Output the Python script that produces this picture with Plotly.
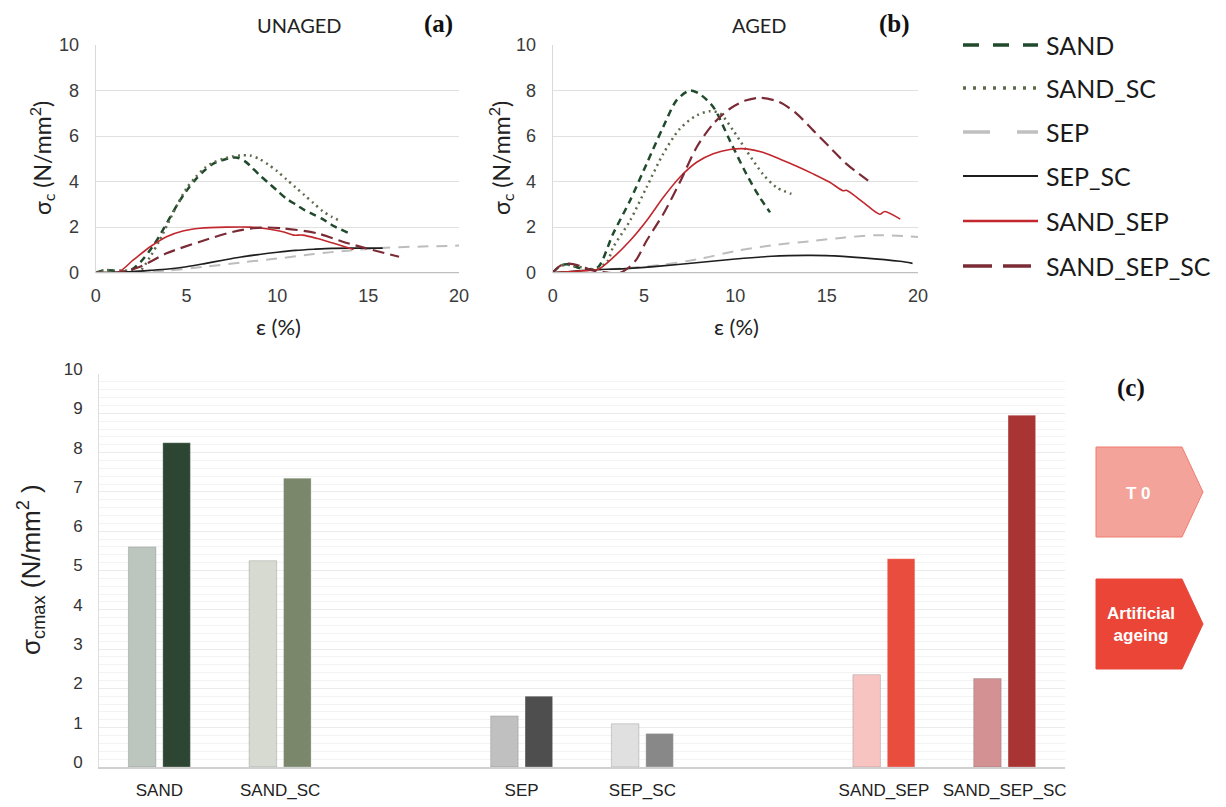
import plotly.graph_objects as go

W, H = 1226, 807
def fx(x): return x / W
def fy(y): return 1 - y / H

# ---------------- data: panel (a) UNAGED ----------------
a_sand_x = [0, 0.5, 1, 1.5, 2, 2.5, 3, 3.5, 4, 4.5, 5, 5.5, 6, 6.5, 7, 7.5, 7.8, 8.2, 8.5, 9, 9.5, 10, 10.5, 11, 11.5, 12, 12.5, 12.9, 13.1, 13.9]
a_sand_y = [0, 0.1, 0.1, 0.05, 0.15, 0.5, 1.0, 1.6, 2.3, 3.0, 3.6, 4.1, 4.5, 4.8, 4.95, 5.05, 5.05, 4.9, 4.7, 4.3, 3.95, 3.6, 3.25, 3.0, 2.75, 2.55, 2.35, 2.15, 2.05, 1.75]
a_sandsc_x = [0, 0.5, 1, 1.5, 2, 2.35, 3, 3.5, 4, 4.5, 5, 5.5, 6, 6.5, 7, 7.5, 8, 8.5, 9, 9.5, 10, 10.5, 11, 11.5, 12, 12.5, 13, 13.4]
a_sandsc_y = [0, 0.12, 0.08, 0.1, 0.05, 0.0, 0.7, 1.4, 2.2, 3.0, 3.7, 4.2, 4.6, 4.85, 5.0, 5.1, 5.15, 5.15, 5.0, 4.75, 4.45, 4.1, 3.75, 3.4, 3.05, 2.7, 2.45, 2.3]
a_sep_x = [0, 2, 4, 6, 8, 10, 12, 14, 16, 18, 20]
a_sep_y = [0, 0.02, 0.1, 0.26, 0.45, 0.62, 0.82, 0.98, 1.1, 1.15, 1.19]
a_sepsc_x = [0, 1, 2, 3, 4, 5, 6, 7, 8, 9, 10, 11, 12, 13, 14, 15, 15.8]
a_sepsc_y = [0, 0.02, 0.05, 0.1, 0.16, 0.26, 0.4, 0.55, 0.69, 0.8, 0.9, 0.98, 1.03, 1.07, 1.08, 1.08, 1.08]
a_sandsep_x = [0, 1.2, 2.07, 3.0, 3.9, 4.8, 5.74, 7.2, 8.5, 9.4, 10.3, 10.9, 11.4, 12.2, 13.1, 14.2]
a_sandsep_y = [0, 0, 0.56, 1.14, 1.58, 1.83, 1.95, 2.0, 2.0, 1.93, 1.8, 1.65, 1.65, 1.5, 1.29, 1.02]
a_sandsepsc_x = [0, 1.3, 2.44, 3.9, 5.74, 7.58, 9.05, 10.3, 12.2, 13.6, 14.9, 16.7]
a_sandsepsc_y = [0, 0, 0.26, 0.85, 1.36, 1.8, 1.98, 1.95, 1.73, 1.36, 1.07, 0.7]

# ---------------- data: panel (b) AGED ----------------
b_sand_x = [0, 0.4, 0.8, 1.5, 2, 2.5, 3.3, 4.23, 5.14, 6.05, 6.78, 7.5, 8.0, 8.79, 9.7, 10.6, 11.34, 11.9]
b_sand_y = [0, 0.3, 0.37, 0.2, 0.15, 0.25, 1.7, 3.16, 4.78, 6.4, 7.57, 8.0, 7.87, 7.28, 5.8, 4.34, 3.3, 2.65]
b_sandsc_x = [0, 0.4, 0.8, 1.5, 2, 2.5, 3.0, 3.3, 4.23, 5.14, 6.05, 6.96, 7.88, 8.6, 9.15, 9.88, 10.6, 11.5, 12.25, 13.07]
b_sandsc_y = [0, 0.28, 0.35, 0.25, 0.15, 0.2, 0.5, 1.1, 2.28, 3.75, 5.22, 6.32, 6.91, 7.09, 7.0, 6.25, 5.37, 4.34, 3.75, 3.46]
b_sep_x = [0, 2, 4, 6, 8, 10, 12, 14.3, 16, 17.9, 20]
b_sep_y = [0, 0.1, 0.2, 0.35, 0.6, 0.95, 1.2, 1.4, 1.55, 1.65, 1.57]
b_sepsc_x = [0, 1, 2, 4, 6, 8, 10, 12, 13.9, 15, 17, 19, 19.7]
b_sepsc_y = [0, 0.05, 0.12, 0.18, 0.3, 0.45, 0.6, 0.72, 0.76, 0.75, 0.65, 0.5, 0.41]
b_sandsep_x = [0, 1, 2, 2.5, 3.3, 4.23, 5.14, 6.05, 6.96, 7.88, 8.79, 9.7, 10.6, 11.5, 12.4, 13.3, 14.26, 15.17, 15.9, 16.08, 17.0, 17.9, 18.18, 19.03]
b_sandsep_y = [0, 0.05, 0.1, 0.15, 0.66, 1.4, 2.28, 3.3, 4.19, 4.85, 5.22, 5.41, 5.44, 5.29, 5.0, 4.7, 4.34, 3.97, 3.6, 3.62, 3.09, 2.57, 2.69, 2.35]
b_sandsepsc_x = [0, 0.4, 0.9, 1.5, 2.2, 3.0, 3.7, 4.2, 4.6, 5.14, 6.05, 6.96, 7.88, 8.79, 9.7, 10.6, 11.4, 12.4, 13.35, 14.26, 15.17, 16.08, 17.27]
b_sandsepsc_y = [0, 0.3, 0.4, 0.3, 0.1, 0.0, 0.0, 0.25, 0.6, 1.4, 2.57, 3.97, 5.51, 6.54, 7.2, 7.57, 7.68, 7.5, 6.99, 6.25, 5.51, 4.78, 4.04]

# ---------------- data: panel (c) ----------------
bar_categories = ["SAND", "SAND_SC", "SEP", "SEP_SC", "SAND_SEP", "SAND_SEP_SC"]
bar_t0 = [5.6, 5.25, 1.3, 1.1, 2.35, 2.25]
bar_aged = [8.25, 7.35, 1.8, 0.85, 5.3, 8.95]
t0_colors = ["#bcc6bf", "#d6dad0", "#c0c0c0", "#e0e0e0", "#f7c4c1", "#d49193"]
aged_colors = ["#2d4634", "#7a876b", "#4e4e4e", "#888888", "#e94d3e", "#a83434"]

series_names = ["SAND", "SAND_SC", "SEP", "SEP_SC", "SAND_SEP", "SAND_SEP_SC"]
series_colors = ["#1f4a2b", "#5c6b4c", "#bdbdbd", "#1e1e1e", "#c1272d", "#7b2b36"]
series_dash = ["7px,5px", "2px,4px", "11px,8px", "solid", "solid", "12px,6px"]
series_width = [2.5, 2.5, 2.0, 1.6, 1.6, 2.2]

fig = go.Figure()

panel_a = [(a_sand_x, a_sand_y), (a_sandsc_x, a_sandsc_y), (a_sep_x, a_sep_y),
           (a_sepsc_x, a_sepsc_y), (a_sandsep_x, a_sandsep_y), (a_sandsepsc_x, a_sandsepsc_y)]
panel_b = [(b_sand_x, b_sand_y), (b_sandsc_x, b_sandsc_y), (b_sep_x, b_sep_y),
           (b_sepsc_x, b_sepsc_y), (b_sandsep_x, b_sandsep_y), (b_sandsepsc_x, b_sandsepsc_y)]

for i, (xs, ys) in enumerate(panel_a):
    fig.add_trace(go.Scatter(x=xs, y=ys, mode="lines", xaxis="x", yaxis="y", showlegend=False,
                             line=dict(color=series_colors[i], dash=series_dash[i], width=series_width[i],
                                       shape="spline", smoothing=0.8), name=series_names[i]))
for i, (xs, ys) in enumerate(panel_b):
    fig.add_trace(go.Scatter(x=xs, y=ys, mode="lines", xaxis="x2", yaxis="y2", showlegend=False,
                             line=dict(color=series_colors[i], dash=series_dash[i], width=series_width[i],
                                       shape="spline", smoothing=0.8), name=series_names[i]))

# bar chart with spacer categories between groups
spacers = {1: " ", 3: "  "}
cat_axis, t0_vals, aged_vals, t0_c, aged_c = [], [], [], [], []
for i, c in enumerate(bar_categories):
    cat_axis.append(c); t0_vals.append(bar_t0[i]); aged_vals.append(bar_aged[i])
    t0_c.append(t0_colors[i]); aged_c.append(aged_colors[i])
    if i in spacers:
        cat_axis.append(spacers[i]); t0_vals.append(None); aged_vals.append(None)
        t0_c.append("white"); aged_c.append("white")

fig.add_trace(go.Bar(x=cat_axis, y=t0_vals, xaxis="x3", yaxis="y3", showlegend=False, name="T 0",
                     marker=dict(color=t0_c, line=dict(color="rgba(90,90,90,0.25)", width=1))))
fig.add_trace(go.Bar(x=cat_axis, y=aged_vals, xaxis="x3", yaxis="y3", showlegend=False, name="Artificial ageing",
                     marker=dict(color=aged_c, line=dict(color="rgba(255,255,255,0.25)", width=1))))

tick_font_top = dict(family="Liberation Sans, Arial", size=18, color="#3a3a3a")
common_top_x = dict(range=[0, 20], tickvals=[0, 5, 10, 15, 20], showgrid=False, zeroline=False,
                    showline=False, ticks="", tickfont=tick_font_top, ticklabelstandoff=10,
                    automargin=False, fixedrange=True)
common_top_y = dict(range=[0, 10], dtick=2, showgrid=True, gridcolor="#e0e0e0", gridwidth=1,
                    zeroline=False, showline=True, linecolor="#d9d9d9", ticks="",
                    tickfont=tick_font_top, ticklabelstandoff=12, automargin=False, fixedrange=True)

fig.update_layout(
    template="none",
    width=W, height=H, margin=dict(l=0, r=0, t=0, b=0, autoexpand=False),
    paper_bgcolor="white", plot_bgcolor="white",
    barmode="group", bargap=0.43, bargroupgap=0.2,
    xaxis=dict(domain=[fx(95.7), fx(459)], anchor="y", **common_top_x),
    yaxis=dict(domain=[fy(272.7), fy(45)], anchor="x", **common_top_y),
    xaxis2=dict(domain=[fx(552.7), fx(918)], anchor="y2", **common_top_x),
    yaxis2=dict(domain=[fy(272.7), fy(45)], anchor="x2", **common_top_y),
    xaxis3=dict(domain=[fx(99), fx(1065)], anchor="y3", type="category",
                categoryorder="array", categoryarray=cat_axis, range=[-0.5, 7.5],
                showgrid=False, showline=True, linecolor="#d0d0d0", linewidth=1.5, ticks="",
                tickangle=0, automargin=False, fixedrange=True,
                tickfont=dict(family="Liberation Sans, Arial", size=17, color="#222"),
                ticklabelstandoff=7),
    yaxis3=dict(domain=[fy(767), fy(374)], anchor="x3", range=[0, 10], dtick=1,
                showgrid=True, gridcolor="#ebebeb", gridwidth=1, zeroline=False,
                minor=dict(dtick=0.2, showgrid=True, gridcolor="#f3f3f3", gridwidth=1),
                showline=True, linecolor="#dedede", ticks="", automargin=False, fixedrange=True,
                tickfont=dict(family="Liberation Sans, Arial", size=17, color="#333"),
                ticklabelstandoff=12, ticklabelshift=-5),
)

# shapes: x axis line at zero for top panels
shapes = []
for x0, x1 in [(95.7, 459), (552.7, 918)]:
    shapes.append(dict(type="line", xref="paper", yref="paper", x0=fx(x0), x1=fx(x1),
                       y0=fy(272.7), y1=fy(272.7), line=dict(color="#bfbfbf", width=1.2)))

def ann(x, y, text, font, angle=0, xanchor="center"):
    return dict(xref="paper", yref="paper", x=fx(x), y=fy(y), xanchor=xanchor, yanchor="middle",
                text=text, showarrow=False, font=font, textangle=angle)

# manual legend
leg_rows = [45, 88, 132, 176, 221, 266]
leg_dash = ["16px,14px", "3px,7px", "27px,27px", "solid", "solid", "29px,11px"]
leg_width = [3.5, 3.5, 3.5, 2.2, 2.5, 3.5]
leg_x1 = [1038, 1038, 1038, 1038, 1038, 1031]
annotations = []
for i, yy in enumerate(leg_rows):
    shapes.append(dict(type="line", xref="paper", yref="paper", x0=fx(963), x1=fx(leg_x1[i]),
                       y0=fy(yy), y1=fy(yy),
                       line=dict(color=series_colors[i] if i != 2 else "#c0c0c0",
                                 dash=leg_dash[i], width=leg_width[i])))
    annotations.append(ann(1044, yy, series_names[i],
                           dict(family="Lato, Open Sans", size=25, color="#1a1a1a"), xanchor="left"))

# pentagon legend boxes for panel (c)
def pent(x0, y0, x1, xt, y1):
    ym = (y0 + y1) / 2
    return (f"M {fx(x0)} {fy(y0)} L {fx(x1)} {fy(y0)} L {fx(xt)} {fy(ym)} "
            f"L {fx(x1)} {fy(y1)} L {fx(x0)} {fy(y1)} Z")
shapes.append(dict(type="path", xref="paper", yref="paper", path=pent(1096, 447, 1182, 1203, 537),
                   fillcolor="#f4a39b", line=dict(color="#ef7d70", width=1)))
shapes.append(dict(type="path", xref="paper", yref="paper", path=pent(1096, 579, 1182, 1203, 669),
                   fillcolor="#ea4536", line=dict(color="#e8483a", width=1)))
box_font = dict(family="Liberation Sans, Arial", size=17, color="white")
annotations.append(ann(1138, 493, "<b>T 0</b>", box_font))
annotations.append(ann(1141, 624, "<b>Artificial<br>ageing</b>", box_font))

# titles and axis titles
txt_font = dict(family="Lato, Open Sans", size=20, color="#222")
lbl_font = dict(family="Liberation Serif, Times New Roman", size=25, color="#111")
ax_font = dict(family="Lato, Open Sans", size=22, color="#222")
annotations += [
    ann(299, 25, "UNAGED", txt_font),
    ann(759, 25, "AGED", txt_font),
    ann(438, 24, "<b>(a)</b>", lbl_font),
    ann(894, 24, "<b>(b)</b>", lbl_font),
    ann(1131, 388, "<b>(c)</b>", lbl_font),
    ann(278, 326, "ε (%)", ax_font),
    ann(736, 326, "ε (%)", ax_font),
    ann(41, 158, "σ<sub>c</sub> (N/mm<sup>2</sup>)", dict(family="Lato, Open Sans", size=23, color="#222"), angle=-90),
    ann(500, 158, "σ<sub>c</sub> (N/mm<sup>2</sup>)", dict(family="Lato, Open Sans", size=23, color="#222"), angle=-90),
    ann(31, 570, "σ<sub>cmax</sub> (N/mm<sup>2</sup> )", dict(family="Liberation Sans, Arial", size=26, color="#222"), angle=-90),
]

fig.update_layout(shapes=shapes, annotations=annotations)
fig.write_html("out.html", config={"displayModeBar": False},
               post_script="document.body.style.margin='0';")
